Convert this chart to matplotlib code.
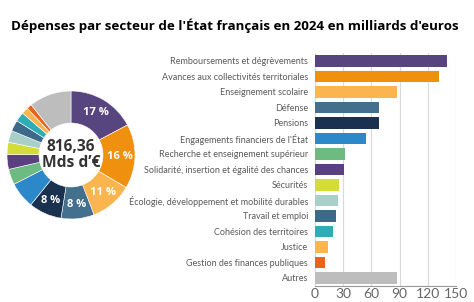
import numpy as np
import matplotlib.pyplot as plt

# données (milliards d'euros)
secteurs = ["Remboursements et dégrèvements", "Avances aux collectivités territoriales",
            "Enseignement scolaire", "Défense", "Pensions", "Engagements financiers de l'État",
            "Recherche et enseignement supérieur", "Solidarité, insertion et égalité des chances",
            "Sécurités", "Écologie, développement et mobilité durables", "Travail et emploi",
            "Cohésion des territoires", "Justice", "Gestion des finances publiques", "Autres"]
montants = [140.2, 132.4, 86.9, 68.0, 67.7, 54.1, 32.0, 30.6, 25.0, 24.2, 22.8, 19.2, 13.9, 10.4, 86.9]
couleurs = ["#574580", "#f0900f", "#fbb54f", "#44708e", "#1b3150", "#2c88c8", "#6dbb80",
            "#5a4080", "#d4dc3a", "#a9d0c8", "#3e6a8a", "#2eacb8", "#fbb54f", "#e8641e", "#bdbdbd"]
total_label = "816,36\nMds d’€"
xticks = [0, 30, 60, 90, 120, 150]

fig = plt.figure(figsize=(4.74, 3.02), dpi=100)
fig.text(0.496, 0.915, "Dépenses par secteur de l'État français en 2024 en milliards d'euros",
         ha="center", va="center", fontsize=9.6, fontweight="bold", family="Open Sans")

#donut#
ax1 = fig.add_axes([7/474, 1-219/302, 128/474, 128/302])
wedges, texts, autotexts = ax1.pie(montants, colors=couleurs, startangle=90, counterclock=False,
                                   autopct=lambda p: f"{p:.0f} %", pctdistance=0.77,
                                   wedgeprops=dict(width=0.5, edgecolor="white", linewidth=0.4))
for i, t in enumerate(autotexts):
    t.set_color("white")
    t.set_fontsize(8)
    t.set_fontweight("bold")
    t.set_family("Open Sans")
    if i >= 5:
        t.set_visible(False)
ax1.text(0, 0, total_label, ha="center", va="center", fontsize=11.2, fontweight="bold",
         color="#333333", family="Open Sans", linespacing=1.0)
ax1.set_xlim(-1, 1)
ax1.set_ylim(-1, 1)

#barres#
ax2 = fig.add_axes([315/474, 1-285.7/302, 141/474, (285.7-53.25)/302])
y = np.arange(len(secteurs))
ax2.barh(y, montants, height=0.72, color=couleurs, zorder=2)
ax2.set_ylim(len(secteurs)-0.5, -0.5)
ax2.set_xlim(0, 150)
ax2.set_yticks(y)
ax2.set_yticklabels(secteurs, fontsize=6.5, color="#5a5a5a", family="Lato")
ax2.set_xticks(xticks)
ax2.set_xticklabels([str(v) for v in xticks], fontsize=10, color="#666666", family="Lato")
ax2.tick_params(axis="y", length=0, pad=5)
ax2.tick_params(axis="x", length=0, pad=1.5)
ax2.grid(axis="x", color="#d9d9d9", lw=0.8, zorder=0)
for s in ["top", "right", "left"]:
    ax2.spines[s].set_visible(False)
ax2.spines["bottom"].set_color("#999999")

plt.savefig("out.png", dpi=100)
